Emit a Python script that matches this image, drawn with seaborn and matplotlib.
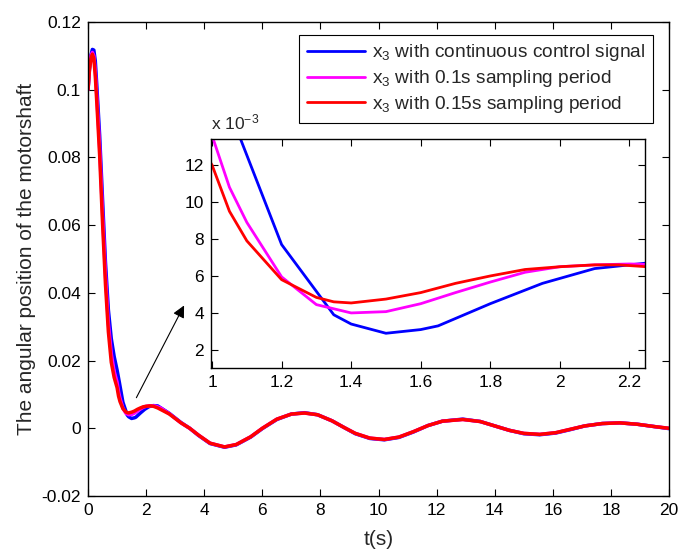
import matplotlib
matplotlib.use("Agg")
import matplotlib.pyplot as plt
import matplotlib.ticker as mticker
import seaborn as sns

# time (s) and angular position x3 for each case
t_cont = [0, 0.05, 0.1, 0.15, 0.2, 0.25, 0.3, 0.4, 0.5, 0.6, 0.7, 0.8, 0.9, 1.0,
          1.08, 1.2, 1.35, 1.4, 1.5, 1.6, 1.65, 1.8, 1.95, 2.1, 2.25, 2.4, 2.8,
          3.2, 3.5, 3.8, 4.2, 4.7, 5.1, 5.6, 6.0, 6.5, 7.0, 7.45, 7.9, 8.4, 8.8,
          9.2, 9.7, 10.2, 10.7, 11.2, 11.7, 12.2, 12.9, 13.5, 14.0, 14.5, 15.0,
          15.55, 16.1, 16.6, 17.1, 17.7, 18.3, 18.9, 19.5, 20.0]
x_cont = [0.1000, 0.1062, 0.1102, 0.1119, 0.1117, 0.1085, 0.1015, 0.0865, 0.0675,
          0.0490, 0.0350, 0.0265, 0.0212, 0.0172, 0.0135, 0.0077, 0.0039, 0.0034,
          0.0029, 0.0031, 0.0033, 0.0045, 0.0056, 0.0064, 0.0067, 0.0066, 0.0044,
          0.0017, 0.0000, -0.0021, -0.0045, -0.0056, -0.0049, -0.0026, -0.0001,
          0.0026, 0.0042, 0.0046, 0.0040, 0.0022, 0.0003, -0.0016, -0.0030,
          -0.0034, -0.0027, -0.0011, 0.0008, 0.0021, 0.0027, 0.0020, 0.0007,
          -0.0006, -0.0016, -0.0019, -0.0014, -0.0004, 0.0007, 0.0014, 0.0016,
          0.0012, 0.0005, -0.0001]

t_s01 = [0, 0.05, 0.1, 0.15, 0.2, 0.25, 0.3, 0.4, 0.5, 0.6, 0.7, 0.8, 0.9, 1.0,
         1.05, 1.1, 1.2, 1.3, 1.4, 1.5, 1.6, 1.7, 1.8, 1.9, 2.0, 2.1, 2.2, 2.3,
         2.5, 2.8, 3.2, 3.5, 3.8, 4.2, 4.7, 5.1, 5.6, 6.0, 6.5, 7.0, 7.45, 7.9,
         8.4, 8.8, 9.2, 9.7, 10.2, 10.7, 11.2, 11.7, 12.2, 12.9, 13.5, 14.0, 14.5,
         15.0, 15.55, 16.1, 16.6, 17.1, 17.7, 18.3, 18.9, 19.5, 20.0]
x_s01 = [0.1000, 0.1065, 0.1100, 0.1110, 0.1100, 0.1055, 0.0985, 0.0830, 0.0635,
         0.0455, 0.0310, 0.0220, 0.0168, 0.0136, 0.0108, 0.0089, 0.00595, 0.00445,
         0.0040, 0.00407, 0.0045, 0.0051, 0.00567, 0.0062, 0.0065, 0.0066, 0.00665,
         0.0066, 0.0060, 0.0043, 0.0016, 0.0000, -0.0020, -0.0044, -0.0055,
         -0.0048, -0.0025, 0.0000, 0.0027, 0.0042, 0.0045, 0.0040, 0.0022, 0.0003,
         -0.0015, -0.0029, -0.0033, -0.0026, -0.0010, 0.0008, 0.0021, 0.0026,
         0.0020, 0.0007, -0.0006, -0.0015, -0.0018, -0.0013, -0.0003, 0.0007,
         0.0014, 0.0016, 0.0012, 0.0005, 0.0000]

t_s015 = [0, 0.05, 0.1, 0.15, 0.2, 0.25, 0.3, 0.4, 0.5, 0.6, 0.7, 0.8, 0.9, 1.0,
          1.05, 1.1, 1.2, 1.3, 1.35, 1.4, 1.5, 1.6, 1.7, 1.8, 1.9, 2.0, 2.1, 2.17,
          2.25, 2.4, 2.8, 3.2, 3.5, 3.8, 4.2, 4.7, 5.1, 5.6, 6.0, 6.5, 7.0, 7.45,
          7.9, 8.4, 8.8, 9.2, 9.7, 10.2, 10.7, 11.2, 11.7, 12.2, 12.9, 13.5, 14.0,
          14.5, 15.0, 15.55, 16.1, 16.6, 17.1, 17.7, 18.3, 18.9, 19.5, 20.0]
x_s015 = [0.1000, 0.1058, 0.1092, 0.1105, 0.1092, 0.1040, 0.0965, 0.0805, 0.0605,
          0.0425, 0.0285, 0.0195, 0.0150, 0.0120, 0.0095, 0.0079, 0.0058, 0.00484,
          0.0046, 0.00454, 0.00475, 0.0051, 0.0056, 0.0060, 0.00635, 0.0065, 0.0066,
          0.0066, 0.0065, 0.0060, 0.0042, 0.0016, 0.0000, -0.0020, -0.0044, -0.0055,
          -0.0048, -0.0025, 0.0000, 0.0027, 0.0042, 0.0045, 0.0040, 0.0022, 0.0003,
          -0.0015, -0.0029, -0.0033, -0.0026, -0.0010, 0.0008, 0.0021, 0.0026,
          0.0020, 0.0007, -0.0006, -0.0015, -0.0018, -0.0013, -0.0003, 0.0007,
          0.0014, 0.0016, 0.0012, 0.0005, 0.0000]

labels = [r"x$_3$ with continuous control signal",
          r"x$_3$ with 0.1s sampling period",
          r"x$_3$ with 0.15s sampling period"]
colors = ["#0000ff", "#ff00ff", "#ff0000"]
series = [(t_cont, x_cont), (t_s01, x_s01), (t_s015, x_s015)]

sns.set_style("ticks")
plt.rcParams["font.family"] = ["Liberation Sans", "DejaVu Sans"]
plt.rcParams["mathtext.fontset"] = "custom"
plt.rcParams["mathtext.rm"] = "Liberation Sans"
plt.rcParams["mathtext.default"] = "regular"
plt.rcParams["font.size"] = 12

fig = plt.figure(figsize=(6.84, 5.54), dpi=100)
ax = fig.add_axes([0.1287, 0.1047, 0.8494, 0.8556])

for (t, x), c, lab in zip(series, colors, labels):
    sns.lineplot(x=t, y=x, color=c, lw=2.5, label=lab, ax=ax,
                 sort=False, estimator=None)

ax.set_xlim(0, 20)
ax.set_ylim(-0.02, 0.12)
ax.set_xticks(range(0, 21, 2))
ax.set_yticks([-0.02, 0, 0.02, 0.04, 0.06, 0.08, 0.1, 0.12])
fmt = mticker.FuncFormatter(lambda v, p: "{:g}".format(round(v, 4)))
ax.yaxis.set_major_formatter(fmt)
ax.set_xlabel("t(s)", fontsize=15, labelpad=9)
ax.set_ylabel("The angular position of the motorshaft", fontsize=15,
              labelpad=4)
ax.tick_params(direction="in", top=True, right=True, length=5, width=0.8,
               labelsize=12.5, colors="black", pad=5)
for s in ax.spines.values():
    s.set_linewidth(1.0)
    s.set_color("black")

leg = ax.legend(loc="upper right", bbox_to_anchor=(0.973, 0.973),
                borderaxespad=0, fancybox=False, framealpha=1,
                edgecolor="black", fontsize=13.8, handlelength=3.0,
                handletextpad=0.4, labelspacing=0.25, borderpad=0.4)
leg.get_frame().set_linewidth(0.8)
for h in leg.get_lines():
    h.set_linewidth(2)

ax.annotate("", xy=(3.35, 0.0370), xytext=(1.62, 0.0083),
            arrowprops=dict(arrowstyle="-|>", color="black", lw=0.8,
                            mutation_scale=18))

# zoomed inset
ax_in = fig.add_axes([0.3085, 0.3357, 0.6345, 0.4134])
for (t, x), c in zip(series, colors):
    sns.lineplot(x=t, y=x, color=c, lw=2.0, ax=ax_in, legend=False,
                 sort=False, estimator=None)
ax_in.set_xlim(0.997, 2.245)
ax_in.set_ylim(0.00102, 0.01341)
ax_in.set_xticks([1, 1.2, 1.4, 1.6, 1.8, 2, 2.2])
ax_in.set_yticks([0.002, 0.004, 0.006, 0.008, 0.010, 0.012])
ax_in.xaxis.set_major_formatter(
    mticker.FuncFormatter(lambda v, p: "{:g}".format(round(v, 2))))
ax_in.yaxis.set_major_formatter(
    mticker.FuncFormatter(lambda v, p: "{:g}".format(round(v * 1000, 2))))
ax_in.set_xlabel("")
ax_in.set_ylabel("")
ax_in.tick_params(direction="in", top=True, right=True, length=5, width=0.8,
                  labelsize=12.5, colors="black", pad=5)
for s in ax_in.spines.values():
    s.set_linewidth(1.0)
    s.set_color("black")
ax_in.text(0.0, 1.03, r"x 10$^{-3}$", transform=ax_in.transAxes,
           ha="left", va="bottom", fontsize=12.5)

fig.savefig("out.png", dpi=100)
